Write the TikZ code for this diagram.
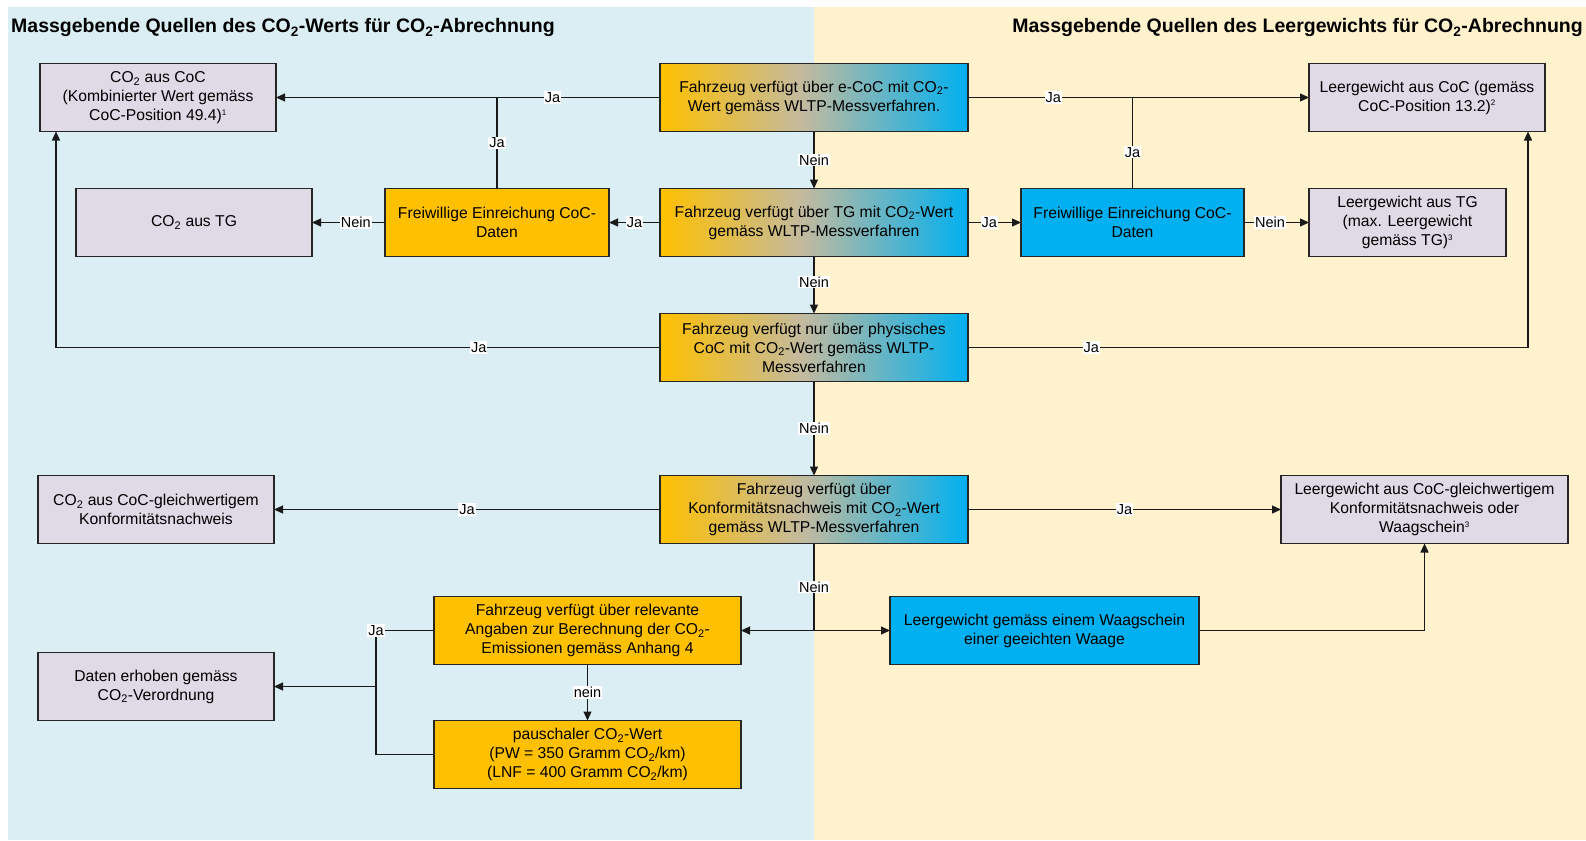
\documentclass[tikz,border=0pt]{standalone}
\usepackage{fontspec}
\setmainfont{Liberation Sans}
\usetikzlibrary{arrows.meta,positioning}
\definecolor{panelblue}{HTML}{DAEEF3}
\definecolor{panelcream}{HTML}{FFF2CC}
\definecolor{boxorange}{HTML}{FFC000}
\definecolor{boxblue}{HTML}{00B0F0}
\definecolor{boxlila}{HTML}{E0D9E6}
\definecolor{boxmid}{RGB}{195,186,158}
\pgfdeclarehorizontalshading{orangeblue}{100bp}{color(0bp)=(boxorange); color(25bp)=(boxorange); color(48bp)=(boxmid); color(75bp)=(boxblue); color(100bp)=(boxblue)}
\newcommand{\cotwo}{CO\textsubscript{2}}
\newcommand{\fussnote}[1]{\textsuperscript{\fontsize{8}{8}\selectfont #1}}

\begin{document}
\begin{tikzpicture}[
    x=1pt, y=-1pt,
    >={Triangle[length=9pt,width=8pt]},
    box/.style={draw=black!85, line width=1.3pt, rectangle, minimum height=68pt, align=center, inner sep=2pt, outer sep=0pt, font=\fontsize{15.7}{19}\selectfont},
    result/.style={box, fill=boxlila, minimum width=236pt},
    check/.style={box, shade, shading=orangeblue, minimum width=308pt},
    checkO/.style={box, fill=boxorange},
    checkB/.style={box, fill=boxblue},
    answer/.style={fill=white, inner sep=1pt, font=\fontsize{14.5}{16}\selectfont},
    title/.style={font=\bfseries\fontsize{19.5}{22}\selectfont, inner sep=0pt},
    flow/.style={line width=1.2pt, draw=black!90}
]
    \fill[white] (0,0) rectangle (1586,840);
    \fill[panelblue] (8,7) rectangle (814,840);
    \fill[panelcream] (814,7) rectangle (1586,840);
    \useasboundingbox (0,0) rectangle (1586,840);

    \node[title, anchor=west] (titelL) at (11,28) {Massgebende Quellen des \cotwo-Werts für \cotwo-Abrechnung};
    \node[title, anchor=east] (titelR) at (1583,28) {Massgebende Quellen des Leergewichts für \cotwo-Abrechnung};

    \node[check] (ecoc) at (814,97.5) {Fahrzeug verfügt über e-CoC mit \cotwo-\\Wert gemäss WLTP-Messverfahren.};
    \node[check, below=57pt of ecoc] (tg) {Fahrzeug verfügt über TG mit \cotwo-Wert\\gemäss WLTP-Messverfahren};
    \node[check, below=57pt of tg] (phys) {Fahrzeug verfügt nur über physisches\\CoC mit \cotwo-Wert gemäss WLTP-\\Messverfahren};
    \node[check, below=94pt of phys] (konf) {Fahrzeug verfügt über\\Konformitätsnachweis mit \cotwo-Wert\\gemäss WLTP-Messverfahren};

    \node[result, left=384pt of ecoc] (co2coc) {\cotwo{} aus CoC\\(Kombinierter Wert gemäss\\CoC-Position 49.4)\fussnote{1}};
    \node[result, right=341pt of ecoc] (lgcoc) {Leergewicht aus CoC (gemäss\\CoC-Position 13.2)\fussnote{2}};
    \node[checkO, minimum width=224pt, left=51pt of tg] (freiL) {Freiwillige Einreichung CoC-\\Daten};
    \node[result, left=73pt of freiL] (co2tg) {\cotwo{} aus TG};
    \node[checkB, minimum width=223pt, right=53pt of tg] (freiR) {Freiwillige Einreichung CoC-\\Daten};
    \node[result, minimum width=197pt, right=65pt of freiR] (lgtg) {Leergewicht aus TG\\(max. Leergewicht\\gemäss TG)\fussnote{3}};
    \node[result, left=386pt of konf] (co2konf) {\cotwo{} aus CoC-gleichwertigem\\Konformitätsnachweis};
    \node[result, minimum width=287pt, right=313pt of konf] (lgkonf) {Leergewicht aus CoC-gleichwertigem\\Konformitätsnachweis oder\\Waagschein\fussnote{3}};
    \node[checkO, minimum width=307pt] (angaben) at (587.5,630.5) {Fahrzeug verfügt über relevante\\Angaben zur Berechnung der \cotwo-\\Emissionen gemäss Anhang 4};
    \node[checkB, minimum width=309pt, right=149pt of angaben] (waage) {Leergewicht gemäss einem Waagschein\\einer geeichten Waage};
    \node[checkO, minimum width=307pt, below=56pt of angaben] (pauschal) {pauschaler \cotwo-Wert\\(PW = 350 Gramm \cotwo/km)\\(LNF = 400 Gramm \cotwo/km)};
    \node[result] (daten) at (156,686.5) {Daten erhoben gemäss\\\cotwo-Verordnung};

    \draw[flow, ->] (ecoc) -- node[answer, pos=0.28] {Ja} (co2coc);
    \draw[flow] (freiL) -- node[answer] {Ja} (freiL |- ecoc);
    \draw[flow, ->] (ecoc) -- node[answer, pos=0.25] {Ja} (lgcoc);
    \draw[flow] (freiR) -- node[answer, pos=0.4] {Ja} (freiR |- ecoc);
    \draw[flow, ->] (ecoc) -- node[answer] {Nein} (tg);
    \draw[flow, ->] (tg) -- node[answer] {Ja} (freiL);
    \draw[flow, ->] (freiL) -- node[answer, pos=0.4] {Nein} (co2tg);
    \draw[flow, ->] (tg) -- node[answer, pos=0.4] {Ja} (freiR);
    \draw[flow, ->] (freiR) -- node[answer, pos=0.4] {Nein} (lgtg);
    \draw[flow, ->] (tg) -- node[answer, pos=0.45] {Nein} (phys);
    \draw[flow, ->] (phys) -| node[answer, pos=0.15] {Ja} ([xshift=16pt]co2coc.south west);
    \draw[flow, ->] (phys) -| node[answer, pos=0.11] {Ja} ([xshift=-17pt]lgcoc.south east);
    \draw[flow, ->] (phys) -- node[answer] {Nein} (konf);
    \draw[flow, ->] (konf) -- node[answer] {Ja} (co2konf);
    \draw[flow, ->] (konf) -- node[answer] {Ja} (lgkonf);
    \coordinate (abzweig) at (konf.south |- angaben.east);
    \draw[flow] (konf) -- node[answer] {Nein} (abzweig);
    \draw[flow, <->] (angaben) -- (waage);
    \draw[flow, ->] (waage) -| (lgkonf);
    \coordinate (jaknick) at ([xshift=-58pt]angaben.west);
    \draw[flow] (angaben) -- (jaknick) |- (pauschal);
    \node[answer] at (jaknick) {Ja};
    \draw[flow, ->] (jaknick |- daten) -- (daten);
    \draw[flow, ->] (angaben) -- node[answer] {nein} (pauschal);
\end{tikzpicture}
\end{document}
